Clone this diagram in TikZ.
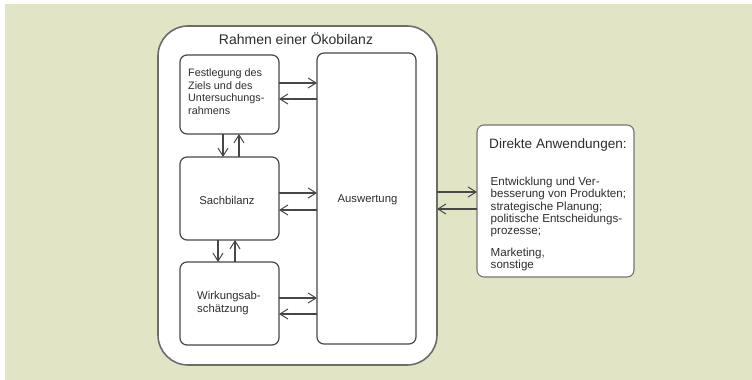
\documentclass[tikz,border=0pt]{standalone}
\usepackage{fontspec}
\setmainfont{Liberation Sans}
\usetikzlibrary{arrows.meta}
\definecolor{bgpaper}{HTML}{E1E5C5}
\definecolor{linegray}{HTML}{474747}
\definecolor{textgray}{HTML}{2E2E2E}
\tikzset{
  box/.style={draw=linegray, line width=1.2pt, fill=white, rounded corners=7pt},
  flow/.style={draw=linegray, line width=1.2pt, -{Straight Barb[length=8pt,width=10pt,line width=1pt]}},
  small/.style={font=\fontsize{11.3}{13}\selectfont, text=textgray, align=left},
}
\begin{document}
\begin{tikzpicture}[x=1pt,y=-1pt]
  \useasboundingbox (0,0) rectangle (752,380);
  \fill[white] (0,0) rectangle (752,380);
  \fill[bgpaper] (5,4) rectangle (752,380);

  % frame of the life cycle assessment
  \draw[draw=linegray!80, line width=1.6pt, fill=white, rounded corners=30pt]
    (158,26) rectangle (437,365);
  \node[font=\fontsize{14}{16}\selectfont, text=textgray] (title) at (296,39) {Rahmen einer Ökobilanz};

  % phase boxes
  \path[box] (180,55) rectangle (279,134);
  \node[small, font=\fontsize{10.8}{12.5}\selectfont, anchor=north west, inner sep=0pt] (ziel) at (188,68.5) {Festlegung des\\Ziels und des\\Untersuchungs-\\rahmens};

  \path[box] (180,157) rectangle (279,240);
  \node[small] (sach) at (227,200) {Sachbilanz};

  \path[box] (180,262) rectangle (279,345);
  \node[small, anchor=north west, inner sep=0pt] (wirk) at (197,291.5) {Wirkungsab-\\schätzung};

  \path[box] (317,53) rectangle (416,344);
  \node[small] (ausw) at (367.5,200) {Auswertung};

  % direct applications
  \draw[draw=linegray!75, line width=1.1pt, fill=white, rounded corners=7pt]
    (477,125) rectangle (634,277);
  \node[font=\fontsize{13.6}{16}\selectfont, text=textgray, anchor=west, inner sep=0pt] (dir) at (489,145) {Direkte Anwendungen:};
  \node[font=\fontsize{11.6}{12.3}\selectfont, text=textgray, align=left, anchor=north west, inner sep=0pt] (liste) at (490.5,177)
    {Entwicklung und Ver-\\besserung von Produkten;\\strategische Planung;\\politische Entscheidungs-\\prozesse;\\[9pt]Marketing,\\sonstige};

  % named anchor points for connectors
  \coordinate (b1r) at (279,83);  \coordinate (a1l) at (317,83);
  \coordinate (b1l) at (279,99);  \coordinate (a1r) at (317,99);
  \coordinate (b2r) at (279,193); \coordinate (a2l) at (317,193);
  \coordinate (b2l) at (279,210); \coordinate (a2r) at (317,210);
  \coordinate (b3r) at (279,298); \coordinate (a3l) at (317,298);
  \coordinate (b3l) at (279,314); \coordinate (a3r) at (317,314);
  \coordinate (v1a) at (223,134); \coordinate (v1b) at (223,157);
  \coordinate (v2a) at (239,157); \coordinate (v2b) at (239,134);
  \coordinate (v3a) at (218,240); \coordinate (v3b) at (218,262);
  \coordinate (v4a) at (235,262); \coordinate (v4b) at (235,240);
  \coordinate (fr1) at (437,192); \coordinate (da1) at (477,192);
  \coordinate (fr2) at (437,209); \coordinate (da2) at (477,209);

  \draw[flow] (b1r) -- (a1l);
  \draw[flow] (a1r) -- (b1l);
  \draw[flow] (b2r) -- (a2l);
  \draw[flow] (a2r) -- (b2l);
  \draw[flow] (b3r) -- (a3l);
  \draw[flow] (a3r) -- (b3l);
  \draw[flow] (v1a) -- (v1b);
  \draw[flow] (v2a) -- (v2b);
  \draw[flow] (v3a) -- (v3b);
  \draw[flow] (v4a) -- (v4b);
  \draw[flow] (fr1) -- (da1);
  \draw[flow] (da2) -- (fr2);
\end{tikzpicture}
\end{document}
